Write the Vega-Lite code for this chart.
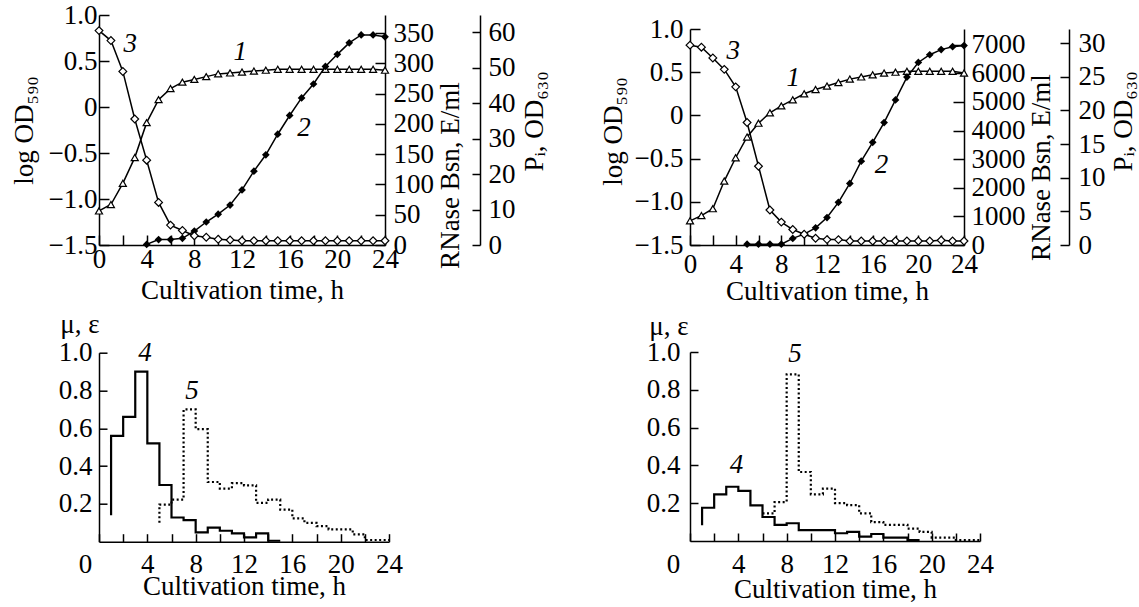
{
  "$schema": "https://vega.github.io/schema/vega-lite/v6.json",
  "background": "white",
  "padding": {"left": 9, "top": 1, "right": 5, "bottom": 5},
  "config": {
    "view": {"stroke": null},
    "font": "Liberation Serif",
    "axis": {
      "labelFont": "Liberation Serif", "labelFontSize": 27, "labelColor": "black",
      "titleFont": "Liberation Serif", "titleFontSize": 27, "titleFontWeight": "normal", "titleColor": "black",
      "domainColor": "black", "domainWidth": 1.5, "tickColor": "black", "tickWidth": 1.5,
      "grid": false, "labelOverlap": false, "labelFlush": false, "labelBound": false
    }
  },
  "datasets": {
    "tl_od": [
      {"t": 0, "v": -1.13}, {"t": 1, "v": -1.06}, {"t": 2, "v": -0.83}, {"t": 3, "v": -0.55}, {"t": 4, "v": -0.17},
      {"t": 5, "v": 0.08}, {"t": 6, "v": 0.2}, {"t": 7, "v": 0.27}, {"t": 8, "v": 0.3}, {"t": 9, "v": 0.33},
      {"t": 10, "v": 0.36}, {"t": 11, "v": 0.37}, {"t": 12, "v": 0.38}, {"t": 13, "v": 0.39}, {"t": 14, "v": 0.4},
      {"t": 15, "v": 0.41}, {"t": 16, "v": 0.41}, {"t": 17, "v": 0.41}, {"t": 18, "v": 0.41}, {"t": 19, "v": 0.41},
      {"t": 20, "v": 0.41}, {"t": 21, "v": 0.41}, {"t": 22, "v": 0.41}, {"t": 23, "v": 0.41}, {"t": 24, "v": 0.4}
    ],
    "tl_rn": [
      {"t": 4, "v": 1}, {"t": 5, "v": 9}, {"t": 6, "v": 9}, {"t": 7, "v": 11}, {"t": 8, "v": 23},
      {"t": 9, "v": 38}, {"t": 10, "v": 51}, {"t": 11, "v": 66}, {"t": 12, "v": 91}, {"t": 13, "v": 122},
      {"t": 14, "v": 149}, {"t": 15, "v": 183}, {"t": 16, "v": 214}, {"t": 17, "v": 243}, {"t": 18, "v": 266},
      {"t": 19, "v": 295}, {"t": 20, "v": 315}, {"t": 21, "v": 334}, {"t": 22, "v": 347}, {"t": 23, "v": 347},
      {"t": 24, "v": 344}
    ],
    "tl_pi": [
      {"t": 0, "v": 60.4}, {"t": 1, "v": 57.6}, {"t": 2, "v": 48.9}, {"t": 3, "v": 35.5}, {"t": 4, "v": 23.9},
      {"t": 5, "v": 12.0}, {"t": 6, "v": 5.6}, {"t": 7, "v": 4.1}, {"t": 8, "v": 2.6}, {"t": 9, "v": 2.2},
      {"t": 10, "v": 1.6}, {"t": 11, "v": 1.4}, {"t": 12, "v": 1.2}, {"t": 13, "v": 1.2}, {"t": 14, "v": 1.2},
      {"t": 15, "v": 1.2}, {"t": 16, "v": 1.2}, {"t": 17, "v": 1.2}, {"t": 18, "v": 1.2}, {"t": 19, "v": 1.2},
      {"t": 20, "v": 1.2}, {"t": 21, "v": 1.2}, {"t": 22, "v": 1.2}, {"t": 23, "v": 1.2}, {"t": 24, "v": 1.2}
    ],
    "tl_lab": [
      {"t": 2.63, "v": 0.69, "lab": "3"}, {"t": 11.85, "v": 0.6, "lab": "1"}, {"t": 17.2, "v": -0.23, "lab": "2"}
    ],
    "tr_od": [
      {"t": 0, "v": -1.22}, {"t": 1, "v": -1.16}, {"t": 2, "v": -1.08}, {"t": 3, "v": -0.76}, {"t": 4, "v": -0.49},
      {"t": 5, "v": -0.25}, {"t": 6, "v": -0.09}, {"t": 7, "v": 0.03}, {"t": 8, "v": 0.11}, {"t": 9, "v": 0.18},
      {"t": 10, "v": 0.25}, {"t": 11, "v": 0.3}, {"t": 12, "v": 0.34}, {"t": 13, "v": 0.38}, {"t": 14, "v": 0.42},
      {"t": 15, "v": 0.445}, {"t": 16, "v": 0.47}, {"t": 17, "v": 0.49}, {"t": 18, "v": 0.5}, {"t": 19, "v": 0.51},
      {"t": 20, "v": 0.51}, {"t": 21, "v": 0.51}, {"t": 22, "v": 0.51}, {"t": 23, "v": 0.51}, {"t": 24, "v": 0.49}
    ],
    "tr_rn": [
      {"t": 5, "v": 30}, {"t": 6, "v": 30}, {"t": 7, "v": 30}, {"t": 8, "v": 30}, {"t": 9, "v": 230},
      {"t": 10, "v": 380}, {"t": 11, "v": 600}, {"t": 12, "v": 960}, {"t": 13, "v": 1490}, {"t": 14, "v": 2150},
      {"t": 15, "v": 2930}, {"t": 16, "v": 3590}, {"t": 17, "v": 4280}, {"t": 18, "v": 5070}, {"t": 19, "v": 5870},
      {"t": 20, "v": 6380}, {"t": 21, "v": 6650}, {"t": 22, "v": 6830}, {"t": 23, "v": 6930}, {"t": 24, "v": 6970}
    ],
    "tr_pi": [
      {"t": 0, "v": 29.7}, {"t": 1, "v": 29.4}, {"t": 2, "v": 27.8}, {"t": 3, "v": 26.1}, {"t": 4, "v": 23.5},
      {"t": 5, "v": 18.2}, {"t": 6, "v": 11.7}, {"t": 7, "v": 5.2}, {"t": 8, "v": 3.4}, {"t": 9, "v": 2.3},
      {"t": 10, "v": 1.6}, {"t": 11, "v": 1.0}, {"t": 12, "v": 0.8}, {"t": 13, "v": 0.8}, {"t": 14, "v": 0.6},
      {"t": 15, "v": 0.6}, {"t": 16, "v": 0.6}, {"t": 17, "v": 0.6}, {"t": 18, "v": 0.6}, {"t": 19, "v": 0.6},
      {"t": 20, "v": 0.6}, {"t": 21, "v": 0.6}, {"t": 22, "v": 0.7}, {"t": 23, "v": 0.6}, {"t": 24, "v": 0.6}
    ],
    "tr_lab": [
      {"t": 3.79, "v": 0.74, "lab": "3"}, {"t": 9.04, "v": 0.43, "lab": "1"}, {"t": 16.77, "v": -0.57, "lab": "2"}
    ],
    "bl_4": [
      {"i": 0, "t": 1, "v": 0.14}, {"i": 1, "t": 1, "v": 0.56}, {"i": 2, "t": 2, "v": 0.66}, {"i": 3, "t": 3, "v": 0.9},
      {"i": 4, "t": 4, "v": 0.52}, {"i": 5, "t": 5, "v": 0.3}, {"i": 6, "t": 6, "v": 0.128}, {"i": 7, "t": 7, "v": 0.114},
      {"i": 8, "t": 8, "v": 0.049}, {"i": 9, "t": 9, "v": 0.075}, {"i": 10, "t": 10, "v": 0.058}, {"i": 11, "t": 11, "v": 0.044},
      {"i": 12, "t": 12, "v": 0.023}, {"i": 13, "t": 13, "v": 0.044}, {"i": 14, "t": 14, "v": 0.005}, {"i": 15, "t": 15, "v": 0.005}
    ],
    "bl_5": [
      {"i": 0, "t": 5, "v": 0.1}, {"i": 1, "t": 5, "v": 0.196}, {"i": 2, "t": 6, "v": 0.223}, {"i": 3, "t": 7, "v": 0.7},
      {"i": 4, "t": 8, "v": 0.596}, {"i": 5, "t": 9, "v": 0.316}, {"i": 6, "t": 10, "v": 0.281}, {"i": 7, "t": 11, "v": 0.31},
      {"i": 8, "t": 12, "v": 0.298}, {"i": 9, "t": 13, "v": 0.205}, {"i": 10, "t": 14, "v": 0.223}, {"i": 11, "t": 15, "v": 0.17},
      {"i": 12, "t": 16, "v": 0.123}, {"i": 13, "t": 17, "v": 0.1}, {"i": 14, "t": 18, "v": 0.082}, {"i": 15, "t": 19, "v": 0.065},
      {"i": 16, "t": 21, "v": 0.039}, {"i": 17, "t": 22, "v": 0.009}, {"i": 18, "t": 24, "v": 0.009}
    ],
    "bl_lab": [
      {"t": 3.8, "v": 1.0, "lab": "4"}, {"t": 7.7, "v": 0.8, "lab": "5"}
    ],
    "br_4": [
      {"i": 0, "t": 1, "v": 0.083}, {"i": 1, "t": 1, "v": 0.176}, {"i": 2, "t": 2, "v": 0.247}, {"i": 3, "t": 3, "v": 0.287},
      {"i": 4, "t": 4, "v": 0.265}, {"i": 5, "t": 5, "v": 0.189}, {"i": 6, "t": 6, "v": 0.127}, {"i": 7, "t": 7, "v": 0.085},
      {"i": 8, "t": 8, "v": 0.094}, {"i": 9, "t": 9, "v": 0.058}, {"i": 10, "t": 12, "v": 0.041}, {"i": 11, "t": 13, "v": 0.048},
      {"i": 12, "t": 14, "v": 0.023}, {"i": 13, "t": 15, "v": 0.037}, {"i": 14, "t": 16, "v": 0.018}, {"i": 15, "t": 18, "v": 0.005},
      {"i": 16, "t": 19, "v": 0.005}
    ],
    "br_5": [
      {"i": 0, "t": 6, "v": 0.146}, {"i": 1, "t": 7, "v": 0.206}, {"i": 2, "t": 8, "v": 0.882}, {"i": 3, "t": 9, "v": 0.365},
      {"i": 4, "t": 10, "v": 0.247}, {"i": 5, "t": 11, "v": 0.277}, {"i": 6, "t": 12, "v": 0.2}, {"i": 7, "t": 13, "v": 0.19},
      {"i": 8, "t": 14, "v": 0.146}, {"i": 9, "t": 15, "v": 0.1}, {"i": 10, "t": 16, "v": 0.085}, {"i": 11, "t": 18, "v": 0.065},
      {"i": 12, "t": 19, "v": 0.048}, {"i": 13, "t": 20, "v": 0.018}, {"i": 14, "t": 22, "v": 0.005}, {"i": 15, "t": 24, "v": 0.005}
    ],
    "br_lab": [
      {"t": 3.85, "v": 0.4, "lab": "4"}, {"t": 8.68, "v": 0.99, "lab": "5"}
    ]
  },
  "spacing": 51,
  "hconcat": [
    {
      "bounds": "flush",
      "spacing": 107.7,
      "vconcat": [
        {
          "width": 286, "height": 230,
          "encoding": {
            "x": {"field": "t", "type": "quantitative", "scale": {"domain": [0, 24], "nice": false},
              "axis": {"values": [0, 2, 4, 6, 8, 10, 12, 14, 16, 18, 20, 22, 24], "format": "d",
                "labelExpr": "datum.value % 4 == 0 ? datum.label : ''",
                "tickSize": -10, "labelPadding": 11, "title": "Cultivation time, h", "titleY": 45, "titleBaseline": "middle"}}
          },
          "resolve": {"scale": {"y": "independent"}, "axis": {"y": "independent"}},
          "layer": [
            {
              "encoding": {
                "y": {"field": "v", "type": "quantitative", "scale": {"domain": [-1.5, 1], "nice": false, "zero": false},
                  "axis": {"values": [-1.5, -1, -0.5, 0, 0.5, 1],
                    "labelExpr": "datum.value == 0 ? '0' : format(datum.value, '.1f')",
                    "tickSize": -10, "labelPadding": 12, "title": "log OD₅₉₀", "titleAngle": -90,
                    "titleX": -75, "titleY": 115, "titleAlign": "center", "titleBaseline": "middle"}}
              },
              "layer": [
                {"data": {"name": "tl_od"}, "mark": {"type": "line", "color": "black", "strokeWidth": 1.5}},
                {"data": {"name": "tl_od"}, "mark": {"type": "point", "shape": "triangle-up", "size": 50, "filled": true, "fill": "white", "stroke": "black", "strokeWidth": 1.2, "opacity": 1}},
                {"data": {"name": "tl_lab"}, "mark": {"type": "text", "font": "Liberation Serif", "fontSize": 27, "fontStyle": "italic", "color": "black", "align": "center", "baseline": "middle"},
                  "encoding": {"text": {"field": "lab"}}}
              ]
            },
            {
              "data": {"name": "tl_rn"},
              "encoding": {
                "y": {"field": "v", "type": "quantitative", "scale": {"domain": [0, 380], "nice": false},
                  "axis": {"orient": "right", "values": [0, 50, 100, 150, 200, 250, 300, 350], "format": "d",
                    "tickSize": -10, "labelPadding": 18, "title": "RNase Bsn, E/ml", "titleAngle": -90,
                    "titleX": 65, "titleY": 160, "titleAlign": "center", "titleBaseline": "middle"}}
              },
              "layer": [
                {"mark": {"type": "line", "color": "black", "strokeWidth": 1.5}},
                {"mark": {"type": "point", "shape": "diamond", "size": 60, "filled": true, "color": "black", "opacity": 1}}
              ]
            },
            {
              "data": {"name": "tl_pi"},
              "encoding": {
                "y": {"field": "v", "type": "quantitative", "scale": {"domain": [0, 64.8], "nice": false},
                  "axis": {"orient": "right", "offset": 95, "values": [0, 10, 20, 30, 40, 50, 60], "format": "d",
                    "tickSize": -8, "labelPadding": 16, "title": "Pᵢ, OD₆₃₀", "titleAngle": -90,
                    "titleX": 54, "titleY": 106, "titleAlign": "center", "titleBaseline": "middle"}}
              },
              "layer": [
                {"mark": {"type": "line", "color": "black", "strokeWidth": 1.5}},
                {"mark": {"type": "point", "shape": "diamond", "size": 60, "filled": true, "fill": "white", "stroke": "black", "strokeWidth": 1.2, "opacity": 1}}
              ]
            }
          ]
        },
        {
          "width": 290, "height": 189,
          "encoding": {
            "x": {"field": "t", "type": "quantitative", "scale": {"domain": [0, 24], "nice": false},
              "axis": {"values": [0, 2, 4, 6, 8, 10, 12, 14, 16, 18, 20, 22, 24], "format": "d",
                "labelExpr": "datum.value % 4 == 0 ? datum.label : ''",
                "labelOffset": {"condition": {"test": "datum.value == 0", "value": -14}, "value": 0},
                "tickSize": -8, "labelPadding": 18, "title": "Cultivation time, h", "titleY": 45, "titleBaseline": "middle"}},
            "y": {"field": "v", "type": "quantitative", "scale": {"domain": [0, 1], "nice": false},
              "axis": {"values": [0.2, 0.4, 0.6, 0.8, 1], "format": ".1f", "tickSize": -8, "labelPadding": 15,
                "title": "μ, ε", "titleAngle": 0, "titleAlign": "right", "titleBaseline": "middle", "titleX": 0, "titleY": -28}}
          },
          "layer": [
            {"data": {"name": "bl_4"}, "mark": {"type": "line", "interpolate": "step-after", "color": "black", "strokeWidth": 2.2},
              "encoding": {"order": {"field": "i", "type": "quantitative"}}},
            {"data": {"name": "bl_5"}, "mark": {"type": "line", "interpolate": "step-after", "color": "black", "strokeWidth": 2.2, "strokeDash": [2, 2.5]},
              "encoding": {"order": {"field": "i", "type": "quantitative"}}},
            {"data": {"name": "bl_lab"}, "mark": {"type": "text", "font": "Liberation Serif", "fontSize": 27, "fontStyle": "italic", "color": "black", "align": "center", "baseline": "middle"},
              "encoding": {"text": {"field": "lab"}}}
          ]
        }
      ]
    },
    {
      "bounds": "flush",
      "spacing": 0,
      "vconcat": [
        {"width": 10, "height": 14, "data": {"values": [{"a": 1}]}, "mark": {"type": "point", "opacity": 0}},
        {
          "bounds": "flush",
          "spacing": 107,
          "vconcat": [
            {
              "width": 274, "height": 216,
              "encoding": {
                "x": {"field": "t", "type": "quantitative", "scale": {"domain": [0, 24], "nice": false},
                  "axis": {"values": [0, 2, 4, 6, 8, 10, 12, 14, 16, 18, 20, 22, 24], "format": "d",
                    "labelExpr": "datum.value % 4 == 0 ? datum.label : ''",
                    "tickSize": -10, "labelPadding": 16, "title": "Cultivation time, h", "titleY": 46, "titleBaseline": "middle"}}
              },
              "resolve": {"scale": {"y": "independent"}, "axis": {"y": "independent"}},
              "layer": [
                {
                  "encoding": {
                    "y": {"field": "v", "type": "quantitative", "scale": {"domain": [-1.5, 1], "nice": false, "zero": false},
                      "axis": {"values": [-1.5, -1, -0.5, 0, 0.5, 1],
                        "labelExpr": "datum.value == 0 ? '0' : format(datum.value, '.1f')",
                        "tickSize": -10, "labelPadding": 17, "title": "log OD₅₉₀", "titleAngle": -90,
                        "titleX": -77, "titleY": 102, "titleAlign": "center", "titleBaseline": "middle"}}
                  },
                  "layer": [
                    {"data": {"name": "tr_od"}, "mark": {"type": "line", "color": "black", "strokeWidth": 1.5}},
                    {"data": {"name": "tr_od"}, "mark": {"type": "point", "shape": "triangle-up", "size": 50, "filled": true, "fill": "white", "stroke": "black", "strokeWidth": 1.2, "opacity": 1}},
                    {"data": {"name": "tr_lab"}, "mark": {"type": "text", "font": "Liberation Serif", "fontSize": 27, "fontStyle": "italic", "color": "black", "align": "center", "baseline": "middle"},
                      "encoding": {"text": {"field": "lab"}}}
                  ]
                },
                {
                  "data": {"name": "tr_rn"},
                  "encoding": {
                    "y": {"field": "v", "type": "quantitative", "scale": {"domain": [0, 7550], "nice": false},
                      "axis": {"orient": "right", "values": [0, 1000, 2000, 3000, 4000, 5000, 6000, 7000], "format": "d",
                        "tickSize": -11, "labelPadding": 18, "title": "RNase Bsn, E/ml", "titleAngle": -90,
                        "titleX": 77, "titleY": 138, "titleAlign": "center", "titleBaseline": "middle"}}
                  },
                  "layer": [
                    {"mark": {"type": "line", "color": "black", "strokeWidth": 1.5}},
                    {"mark": {"type": "point", "shape": "diamond", "size": 60, "filled": true, "color": "black", "opacity": 1}}
                  ]
                },
                {
                  "data": {"name": "tr_pi"},
                  "encoding": {
                    "y": {"field": "v", "type": "quantitative", "scale": {"domain": [0, 32.1], "nice": false},
                      "axis": {"orient": "right", "offset": 105, "values": [0, 5, 10, 15, 20, 25, 30], "format": "d",
                        "tickSize": -9, "labelPadding": 18, "title": "Pᵢ, OD₆₃₀", "titleAngle": -90,
                        "titleX": 54, "titleY": 92, "titleAlign": "center", "titleBaseline": "middle"}}
                  },
                  "layer": [
                    {"mark": {"type": "line", "color": "black", "strokeWidth": 1.5}},
                    {"mark": {"type": "point", "shape": "diamond", "size": 60, "filled": true, "fill": "white", "stroke": "black", "strokeWidth": 1.2, "opacity": 1}}
                  ]
                }
              ]
            },
            {
              "width": 290, "height": 189,
              "encoding": {
                "x": {"field": "t", "type": "quantitative", "scale": {"domain": [0, 24], "nice": false},
                  "axis": {"values": [0, 2, 4, 6, 8, 10, 12, 14, 16, 18, 20, 22, 24], "format": "d",
                    "labelExpr": "datum.value % 4 == 0 ? datum.label : ''",
                    "labelOffset": {"condition": {"test": "datum.value == 0", "value": -17}, "value": 0},
                    "tickSize": -8, "labelPadding": 18, "title": "Cultivation time, h", "titleY": 48, "titleBaseline": "middle"}},
                "y": {"field": "v", "type": "quantitative", "scale": {"domain": [0, 1], "nice": false},
                  "axis": {"values": [0.2, 0.4, 0.6, 0.8, 1], "format": ".1f", "tickSize": -8, "labelPadding": 18,
                    "title": "μ, ε", "titleAngle": 0, "titleAlign": "right", "titleBaseline": "middle", "titleX": -2, "titleY": -26}}
              },
              "layer": [
                {"data": {"name": "br_4"}, "mark": {"type": "line", "interpolate": "step-after", "color": "black", "strokeWidth": 2.2},
                  "encoding": {"order": {"field": "i", "type": "quantitative"}}},
                {"data": {"name": "br_5"}, "mark": {"type": "line", "interpolate": "step-after", "color": "black", "strokeWidth": 2.2, "strokeDash": [2, 2.5]},
                  "encoding": {"order": {"field": "i", "type": "quantitative"}}},
                {"data": {"name": "br_lab"}, "mark": {"type": "text", "font": "Liberation Serif", "fontSize": 27, "fontStyle": "italic", "color": "black", "align": "center", "baseline": "middle"},
                  "encoding": {"text": {"field": "lab"}}}
              ]
            }
          ]
        }
      ]
    }
  ]
}
